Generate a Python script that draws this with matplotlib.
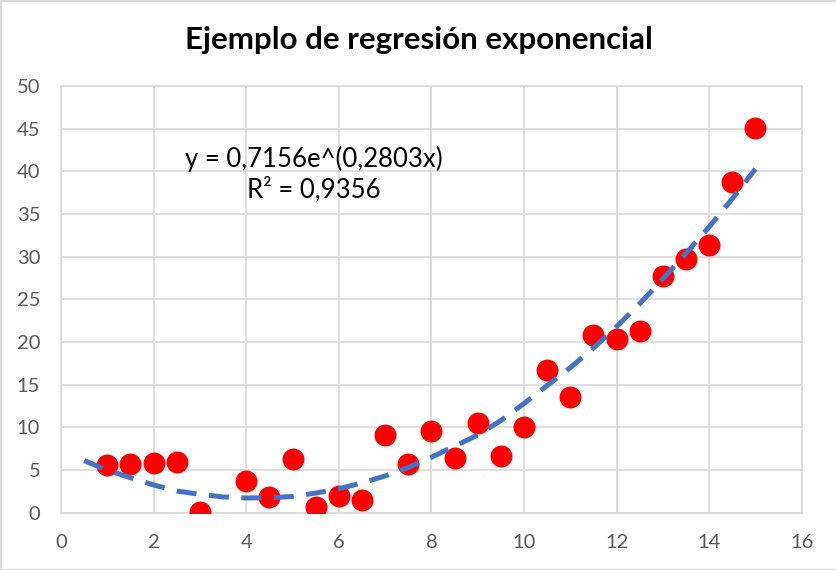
import matplotlib
matplotlib.use('Agg')
import matplotlib.pyplot as plt

#%% Data

x_vals = [1, 1.5, 2, 2.5, 3, 4, 4.5, 5, 5.5, 6, 6.5, 7, 7.5, 8, 8.5, 9, 9.5,
          10, 10.5, 11, 11.5, 12, 12.5, 13, 13.5, 14, 14.5, 15]
y_vals = [5.6, 5.7, 5.8, 5.9, 0.1, 3.7, 1.8, 6.3, 0.7, 2.0, 1.5, 9.1, 5.7, 9.6,
          6.4, 10.5, 6.6, 10.0, 16.7, 13.6, 20.8, 20.4, 21.3, 27.7, 29.7, 31.4,
          38.8, 45.1]

# trendline
x_trend = [0.5, 1, 1.5, 2, 2.5, 3, 3.5, 4, 4.5, 5, 5.5, 6, 6.5, 7, 7.5, 8,
           8.5, 9, 9.5, 10, 10.5, 11, 11.5, 12, 12.5, 13, 13.5, 14, 14.5, 15]
y_trend = [6.1, 5.0, 4.1, 3.25, 2.55, 2.15, 1.85, 1.73, 1.75, 1.9, 2.3, 2.8,
           3.5, 4.3, 5.3, 6.5, 7.8, 9.1, 10.8, 12.8, 14.9, 17.0, 19.3, 21.8,
           24.5, 27.4, 30.4, 33.5, 36.8, 40.3]

x_ticks = [0, 2, 4, 6, 8, 10, 12, 14, 16]
y_ticks = [0, 5, 10, 15, 20, 25, 30, 35, 40, 45, 50]

title = 'Ejemplo de regresión exponencial'
eq_text = 'y = 0,7156e^(0,2803x)\nR² = 0,9356'

#%% Plot

plt.rcParams['font.family'] = ['Lato', 'DejaVu Sans']

fig = plt.figure(figsize=(8.37, 5.70), dpi=100)
fig.patch.set_edgecolor('#d9d9d9')
fig.patch.set_linewidth(2)

ax = fig.add_axes([0.0729, 0.1005, 0.885, 0.7485])

ax.scatter(x_vals, y_vals, s=250, color='#ff0000', zorder=3, linewidths=0)
ax.plot(x_trend, y_trend, color='#4472c4', linewidth=3.6, dashes=(4, 2.5),
        zorder=4, solid_joinstyle='round')

ax.set_xlim(0, 16)
ax.set_ylim(0, 50)
ax.set_xticks(x_ticks)
ax.set_yticks(y_ticks)
ax.tick_params(length=0, labelsize=14.5, labelcolor='#595959')
ax.tick_params(axis='x', pad=15)
ax.tick_params(axis='y', pad=15)

ax.grid(True, color='#d9d9d9', linewidth=1.2)
ax.set_axisbelow(True)
for s in ax.spines.values():
    s.set_color('#d9d9d9')
    s.set_linewidth(1.2)

ax.text(5.46, 39.7, eq_text, ha='center', va='center', fontsize=18.5, linespacing=1.2)

fig.text(0.5, 0.93, title, ha='center', va='center', fontsize=22.5, fontweight='bold')

fig.savefig('out.png', dpi=100)
